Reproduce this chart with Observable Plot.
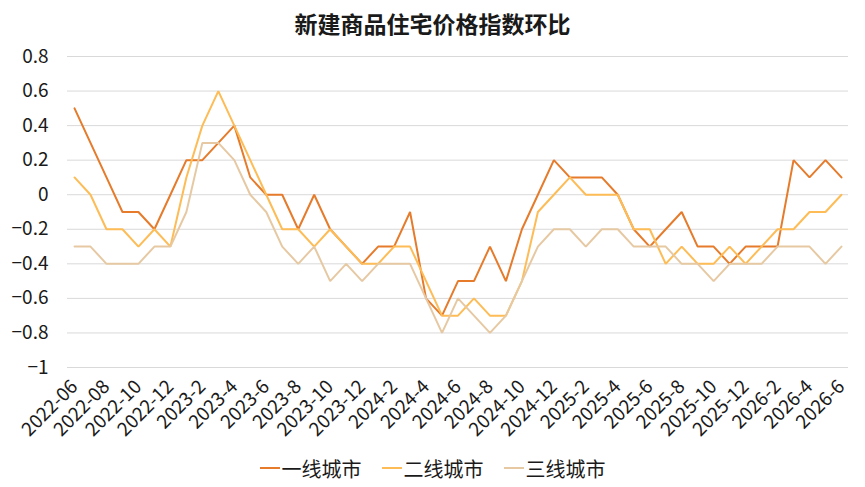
<!DOCTYPE html>
<html>
<head>
<meta charset="utf-8">
<script src="https://cdn.jsdelivr.net/npm/d3@7"></script>
<script src="https://cdn.jsdelivr.net/npm/@observablehq/plot@0.6"></script>
<style>
  html, body { margin: 0; padding: 0; background: #fff; }
  body { width: 865px; height: 487px; overflow: hidden; font-family: "Noto Sans CJK SC", "Noto Sans", sans-serif; }
  #title { height: 40px; line-height: 46px; overflow: visible; text-align: center; font-size: 23px; font-weight: bold; color: #1a1a1a; }
  #chart svg { display: block; overflow: visible; }
  #legend { display: flex; justify-content: center; align-items: center; height: 38px; font-size: 20px; color: #1a1a1a; gap: 20px; }
  .item { display: flex; align-items: center; gap: 2px; }
  .sw { width: 20px; height: 2px; display: inline-block; }
</style>
</head>
<body>
<div id="title">新建商品住宅价格指数环比</div>
<div id="chart"></div>
<div id="legend"></div>
<script>
const months = [
  "2022-06","2022-07","2022-08","2022-09","2022-10","2022-11","2022-12",
  "2023-1","2023-2","2023-3","2023-4","2023-5","2023-6","2023-7","2023-8","2023-9","2023-10","2023-11","2023-12",
  "2024-1","2024-2","2024-3","2024-4","2024-5","2024-6","2024-7","2024-8","2024-9","2024-10","2024-11","2024-12",
  "2025-1","2025-2","2025-3","2025-4","2025-5","2025-6","2025-7","2025-8","2025-9","2025-10","2025-11","2025-12",
  "2026-1","2026-2","2026-3","2026-4","2026-5","2026-6"
];
const seriesNames = ["一线城市", "二线城市", "三线城市"];
const seriesColors = ["#E57B2B", "#FDBC56", "#E6C9A3"];
const tier1 = [0.5,0.3,0.1,-0.1,-0.1,-0.2,0,0.2,0.2,0.3,0.4,0.1,0,0,-0.2,0,-0.2,-0.3,-0.4,-0.3,-0.3,-0.1,-0.6,-0.7,-0.5,-0.5,-0.3,-0.5,-0.2,0,0.2,0.1,0.1,0.1,0,-0.2,-0.3,-0.2,-0.1,-0.3,-0.3,-0.4,-0.3,-0.3,-0.3,0.2,0.1,0.2,0.1];
const tier2 = [0.1,0,-0.2,-0.2,-0.3,-0.2,-0.3,0.1,0.4,0.6,0.4,0.2,0,-0.2,-0.2,-0.3,-0.2,-0.3,-0.4,-0.4,-0.3,-0.3,-0.5,-0.7,-0.7,-0.6,-0.7,-0.7,-0.5,-0.1,0,0.1,0,0,0,-0.2,-0.2,-0.4,-0.3,-0.4,-0.4,-0.3,-0.4,-0.3,-0.2,-0.2,-0.1,-0.1,0];
const tier3 = [-0.3,-0.3,-0.4,-0.4,-0.4,-0.3,-0.3,-0.1,0.3,0.3,0.2,0,-0.1,-0.3,-0.4,-0.3,-0.5,-0.4,-0.5,-0.4,-0.4,-0.4,-0.6,-0.8,-0.6,-0.7,-0.8,-0.7,-0.5,-0.3,-0.2,-0.2,-0.3,-0.2,-0.2,-0.3,-0.3,-0.3,-0.4,-0.4,-0.5,-0.4,-0.4,-0.4,-0.3,-0.3,-0.3,-0.4,-0.3];
const yTicks = [-1,-0.8,-0.6,-0.4,-0.2,0,0.2,0.4,0.6,0.8];

const allSeries = [tier1, tier2, tier3];
const rows = [];
allSeries.forEach((vals, s) => vals.forEach((v, i) => rows.push({i, v, s: seriesNames[s]})));
const xTicks = months.map((m, i) => i).filter(i => i % 2 === 0);

const chart = Plot.plot({
  width: 865,
  height: 409,
  marginLeft: 67,
  marginRight: 17,
  marginTop: 16,
  marginBottom: 82,
  style: { fontFamily: '"Noto Sans CJK SC", "Noto Sans", sans-serif', background: "#fff", color: "#1a1a1a", overflow: "visible" },
  x: { type: "linear", domain: [-0.44, 48.44], axis: null },
  y: { domain: [-1, 0.8], axis: null },
  color: { domain: seriesNames, range: seriesColors },
  marks: [
    Plot.gridY(yTicks, { stroke: "#d9d9d9", strokeOpacity: 1, strokeWidth: 1 }),
    Plot.axisY(yTicks, { label: null, tickSize: 0, tickPadding: 19, fontSize: 19, tickFormat: d3.format(""), fill: "#1a1a1a" }),
    Plot.axisX(xTicks, { label: null, tickSize: 0, tickPadding: 16, tickRotate: -45, fontSize: 19, tickFormat: i => months[i], fill: "#1a1a1a" }),
    Plot.line(rows, { x: "i", y: "v", z: "s", stroke: "s", strokeWidth: 2, strokeLinejoin: "miter", curve: "linear" })
  ]
});
document.getElementById("chart").appendChild(chart);

const legend = document.getElementById("legend");
seriesNames.forEach((n, k) => {
  const it = document.createElement("div");
  it.className = "item";
  const sw = document.createElement("span");
  sw.className = "sw";
  sw.style.background = seriesColors[k];
  const t = document.createElement("span");
  t.textContent = n;
  it.appendChild(sw); it.appendChild(t);
  legend.appendChild(it);
});
</script>
</body>
</html>
